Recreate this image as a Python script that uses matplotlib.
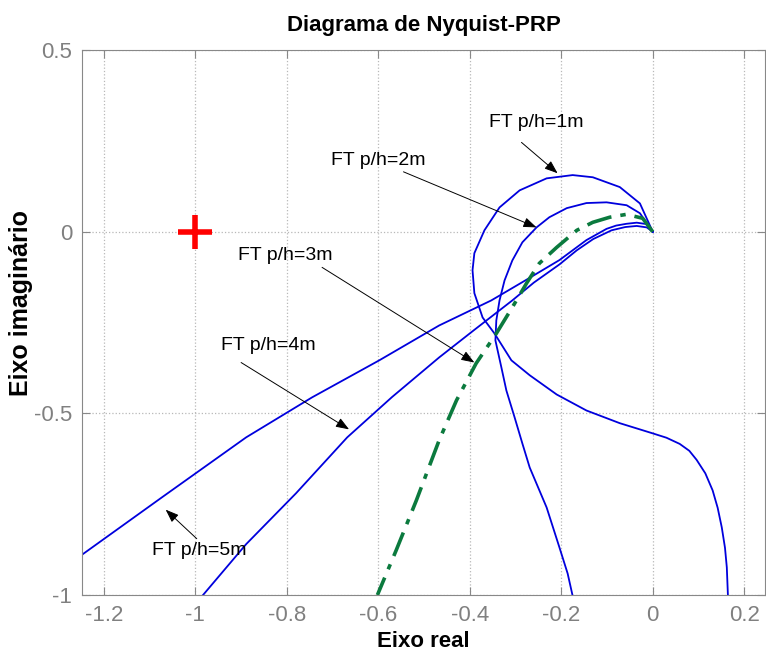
import matplotlib.pyplot as plt

plt.rcParams["font.family"] = ["Liberation Sans", "DejaVu Sans"]

# Nyquist curves (real, imaginary)
re_1m = [0, -0.028, -0.072, -0.131, -0.175, -0.232, -0.291, -0.335, -0.368, -0.390, -0.394,
         -0.390, -0.372, -0.346, -0.309, -0.269, -0.210, -0.145, -0.072, 0, 0.03, 0.059,
         0.08, 0.096, 0.115, 0.131, 0.142, 0.151, 0.158, 0.162, 0.165]
im_1m = [0, 0.078, 0.123, 0.150, 0.156, 0.147, 0.114, 0.067, 0.004, -0.059, -0.106,
         -0.169, -0.236, -0.280, -0.354, -0.395, -0.448, -0.492, -0.527, -0.555, -0.567, -0.584,
         -0.603, -0.628, -0.665, -0.712, -0.76, -0.814, -0.87, -0.924, -1.02]

re_2m = [0, -0.028, -0.057, -0.101, -0.145, -0.188, -0.226, -0.254, -0.285, -0.307, -0.324,
         -0.335, -0.342, -0.344, -0.331, -0.320, -0.302, -0.285, -0.269, -0.232, -0.204,
         -0.186, -0.172]
im_2m = [0, 0.051, 0.073, 0.081, 0.079, 0.065, 0.040, 0.012, -0.029, -0.079, -0.134,
         -0.189, -0.244, -0.299, -0.373, -0.437, -0.511, -0.583, -0.649, -0.759, -0.869,
         -0.941, -1.02]

re_3m = [0, -0.022, -0.057, -0.094, -0.131, -0.166, -0.210, -0.248, -0.276, -0.307, -0.342,
         -0.386, -0.429, -0.467, -0.517, -0.561, -0.602]
im_3m = [0, 0.037, 0.048, 0.040, 0.026, 0.004, -0.043, -0.087, -0.142, -0.208, -0.280,
         -0.362, -0.464, -0.574, -0.740, -0.877, -1.0]

re_4m = [0, -0.013, -0.035, -0.06, -0.09, -0.13, -0.166, -0.204, -0.26, -0.307, -0.39, -0.467,
         -0.57, -0.668, -0.78, -0.889, -0.99]
im_4m = [0, 0.012, 0.016, 0.013, 0.004, -0.02, -0.051, -0.09, -0.14, -0.189, -0.27, -0.346,
         -0.455, -0.566, -0.72, -0.86, -1.01]

re_5m = [0, -0.013, -0.035, -0.057, -0.08, -0.101, -0.145, -0.204, -0.28, -0.353, -0.467,
         -0.598, -0.745, -0.889, -1.073, -1.26]
im_5m = [0, 0.021, 0.025, 0.022, 0.017, 0.008, -0.023, -0.078, -0.135, -0.189, -0.258,
         -0.354, -0.456, -0.566, -0.731, -0.90]

# annotation labels: text position, arrow start, arrow tip
labels = ["FT p/h=1m", "FT p/h=2m", "FT p/h=3m", "FT p/h=4m", "FT p/h=5m"]
label_pos = [(-0.357, 0.302), (-0.703, 0.196), (-0.907, -0.065), (-0.944, -0.313), (-1.095, -0.877)]
arrow_from = [(-0.287, 0.246), (-0.545, 0.165), (-0.723, -0.098), (-0.900, -0.360), (-0.997, -0.845)]
arrow_to = [(-0.208, 0.161), (-0.254, 0.012), (-0.390, -0.360), (-0.664, -0.544), (-1.065, -0.765)]

xticks = [-1.2, -1, -0.8, -0.6, -0.4, -0.2, 0, 0.2]
xticklabels = ["-1.2", "-1", "-0.8", "-0.6", "-0.4", "-0.2", "0", "0.2"]
yticks = [-1, -0.5, 0, 0.5]
yticklabels = ["-1", "-0.5", "0", "0.5"]

fig = plt.figure(figsize=(7.66, 6.51), dpi=100)
ax = fig.add_axes([0.107, 0.086, 0.892, 0.837])

blue = "#0000dd"
ax.plot(re_1m, im_1m, color=blue, lw=1.3)
ax.plot(re_2m, im_2m, color=blue, lw=1.3)
ax.plot(re_4m, im_4m, color=blue, lw=1.3)
ax.plot(re_5m, im_5m, color=blue, lw=1.3)
ax.plot(re_3m, im_3m, color="#0b7a3e", lw=2.6, dashes=(7, 2.5, 1.5, 2.5))

ax.plot(-1, 0, "+", color="red", ms=24, mew=4)

for lab, pos, a0, a1 in zip(labels, label_pos, arrow_from, arrow_to):
    ax.text(pos[0], pos[1], lab, fontsize=14, ha="left", va="center")
    ax.annotate("", xy=a1, xytext=a0,
                arrowprops=dict(arrowstyle="-|>,head_length=0.8,head_width=0.3",
                                color="k", lw=0.7, shrinkA=0, shrinkB=0))

ax.set_xlim(-1.248, 0.246)
ax.set_ylim(-1, 0.5)
ax.set_xticks(xticks)
ax.set_xticklabels(xticklabels)
ax.set_yticks(yticks)
ax.set_yticklabels(yticklabels)
ax.grid(True, ls=":", color="#b8b8b8", lw=0.9)
ax.tick_params(direction="in", length=6, colors="#888888", labelcolor="#808080",
               labelsize=16, top=True, right=True, pad=7)
for sp in ax.spines.values():
    sp.set_color("#888888")

ax.set_title("Diagrama de Nyquist-PRP", fontsize=16, fontweight="bold", pad=14)
ax.set_xlabel("Eixo real", fontsize=16, fontweight="bold", labelpad=4)
ax.set_ylabel("Eixo imaginário", fontsize=18, fontweight="bold")
ax.yaxis.set_label_coords(-0.071, 0.536)

fig.savefig("out.png", dpi=100)
